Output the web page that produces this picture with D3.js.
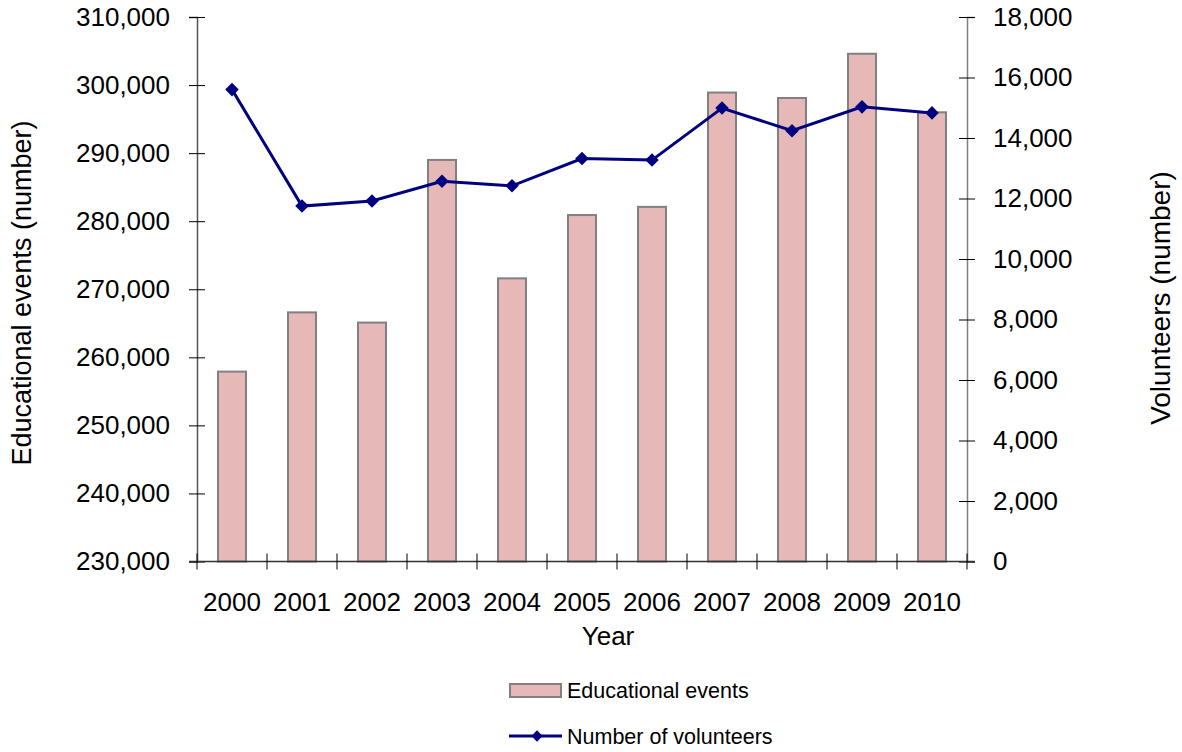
<!DOCTYPE html>
<html><head><meta charset="utf-8">
<script src="https://cdn.jsdelivr.net/npm/d3@7"></script>
<style>body{margin:0;background:#fff}svg{display:block}text{font-family:"Liberation Sans",Arial,sans-serif;fill:#000}</style>
</head><body><svg id="c" width="1182" height="752"></svg>
<script>
const years = ["2000","2001","2002","2003","2004","2005","2006","2007","2008","2009","2010"];
const events = [257900, 266600, 265100, 289000, 271600, 280900, 282100, 298900, 298100, 304600, 296000];
const volunteers = [15600, 11750, 11920, 12570, 12420, 13320, 13270, 14990, 14240, 15030, 14830];
const leftTicks = [230000,240000,250000,260000,270000,280000,290000,300000,310000];
const rightTicks = [0,2000,4000,6000,8000,10000,12000,14000,16000,18000];

const svg = d3.select("#c");
const L = 197, R = 967, T = 17, B = 561.5;
const x = d3.scaleBand().domain(years).range([L, R]).paddingInner(0.6).paddingOuter(0.3);
const yL = d3.scaleLinear().domain([230000, 310000]).range([B, T]);
const yR = d3.scaleLinear().domain([0, 18000]).range([B, T]);
const fmt = d3.format(",");
const step = x.step();

// bars
svg.append("g").selectAll("rect").data(years).join("rect")
  .attr("x", d => x(d)).attr("width", x.bandwidth())
  .attr("y", (d,i) => yL(events[i])).attr("height", (d,i) => B - yL(events[i]))
  .attr("fill", "#e6b8b7").attr("stroke", "#808080").attr("stroke-width", 2);

// left axis
const gl = svg.append("g").attr("transform", `translate(${L},0)`)
  .call(d3.axisLeft(yL).tickValues(leftTicks).tickFormat(fmt).tickSize(8).tickPadding(19));
gl.select(".domain").attr("stroke", "#555").attr("stroke-width", 1.5);
gl.selectAll(".tick line").attr("x2", 8).attr("x1", -8).attr("stroke", "#000");
gl.selectAll(".tick text").style("font-size", "26px").attr("x", -27);

// right axis
const gr = svg.append("g").attr("transform", `translate(${R},0)`)
  .call(d3.axisRight(yR).tickValues(rightTicks).tickFormat(fmt).tickSize(8).tickPadding(19));
gr.select(".domain").attr("stroke", "#808080").attr("stroke-width", 1.5);
gr.selectAll(".tick line").attr("x1", -8).attr("x2", 8).attr("stroke", "#000");
gr.selectAll(".tick text").style("font-size", "26px").attr("x", 26).attr("text-anchor", "start");

// bottom axis
svg.append("line").attr("x1", L - 8).attr("x2", R + 8).attr("y1", B).attr("y2", B).attr("stroke", "#333").attr("stroke-width", 1.5);
const bTicks = years.map(d => x(d) - (step - x.bandwidth()) / 2).concat([R]);
svg.append("g").selectAll("line").data(bTicks).join("line")
  .attr("x1", d => d).attr("x2", d => d).attr("y1", B - 8).attr("y2", B + 8).attr("stroke", "#000");
svg.append("g").selectAll("text").data(years).join("text")
  .attr("x", d => x(d) + x.bandwidth() / 2).attr("y", 611).attr("text-anchor", "middle")
  .style("font-size", "26px").text(d => d);

// line
const line = d3.line().x((d,i) => x(years[i]) + x.bandwidth() / 2).y(d => yR(d));
svg.append("path").datum(volunteers).attr("d", line).attr("fill", "none").attr("stroke", "#000080").attr("stroke-width", 3);
svg.append("g").selectAll("path").data(volunteers).join("path")
  .attr("d", d3.symbol().type(d3.symbolSquare).size(92))
  .attr("transform", (d,i) => `translate(${x(years[i]) + x.bandwidth() / 2},${yR(d)}) rotate(45)`)
  .attr("fill", "#000080");

// titles
svg.append("text").attr("x", 608).attr("y", 645).attr("text-anchor", "middle").style("font-size", "26px").text("Year");
svg.append("text").attr("transform", "translate(31,293) rotate(-90)").attr("text-anchor", "middle").style("font-size", "27px").text("Educational events (number)");
svg.append("text").attr("transform", "translate(1170,298) rotate(-90)").attr("text-anchor", "middle").style("font-size", "28px").text("Volunteers (number)");

// legend
const lg = svg.append("g");
lg.append("rect").attr("x", 510).attr("y", 684).attr("width", 51).attr("height", 13).attr("fill", "#e6b8b7").attr("stroke", "#808080").attr("stroke-width", 2);
lg.append("text").attr("x", 567).attr("y", 698).style("font-size", "21.5px").text("Educational events");
lg.append("line").attr("x1", 509).attr("x2", 562).attr("y1", 736).attr("y2", 736).attr("stroke", "#000080").attr("stroke-width", 3);
lg.append("path").attr("d", d3.symbol().type(d3.symbolSquare).size(64)).attr("transform", "translate(537,736) rotate(45)").attr("fill", "#000080");
lg.append("text").attr("x", 567).attr("y", 744).style("font-size", "21.5px").text("Number of volunteers");
</script></body></html>
